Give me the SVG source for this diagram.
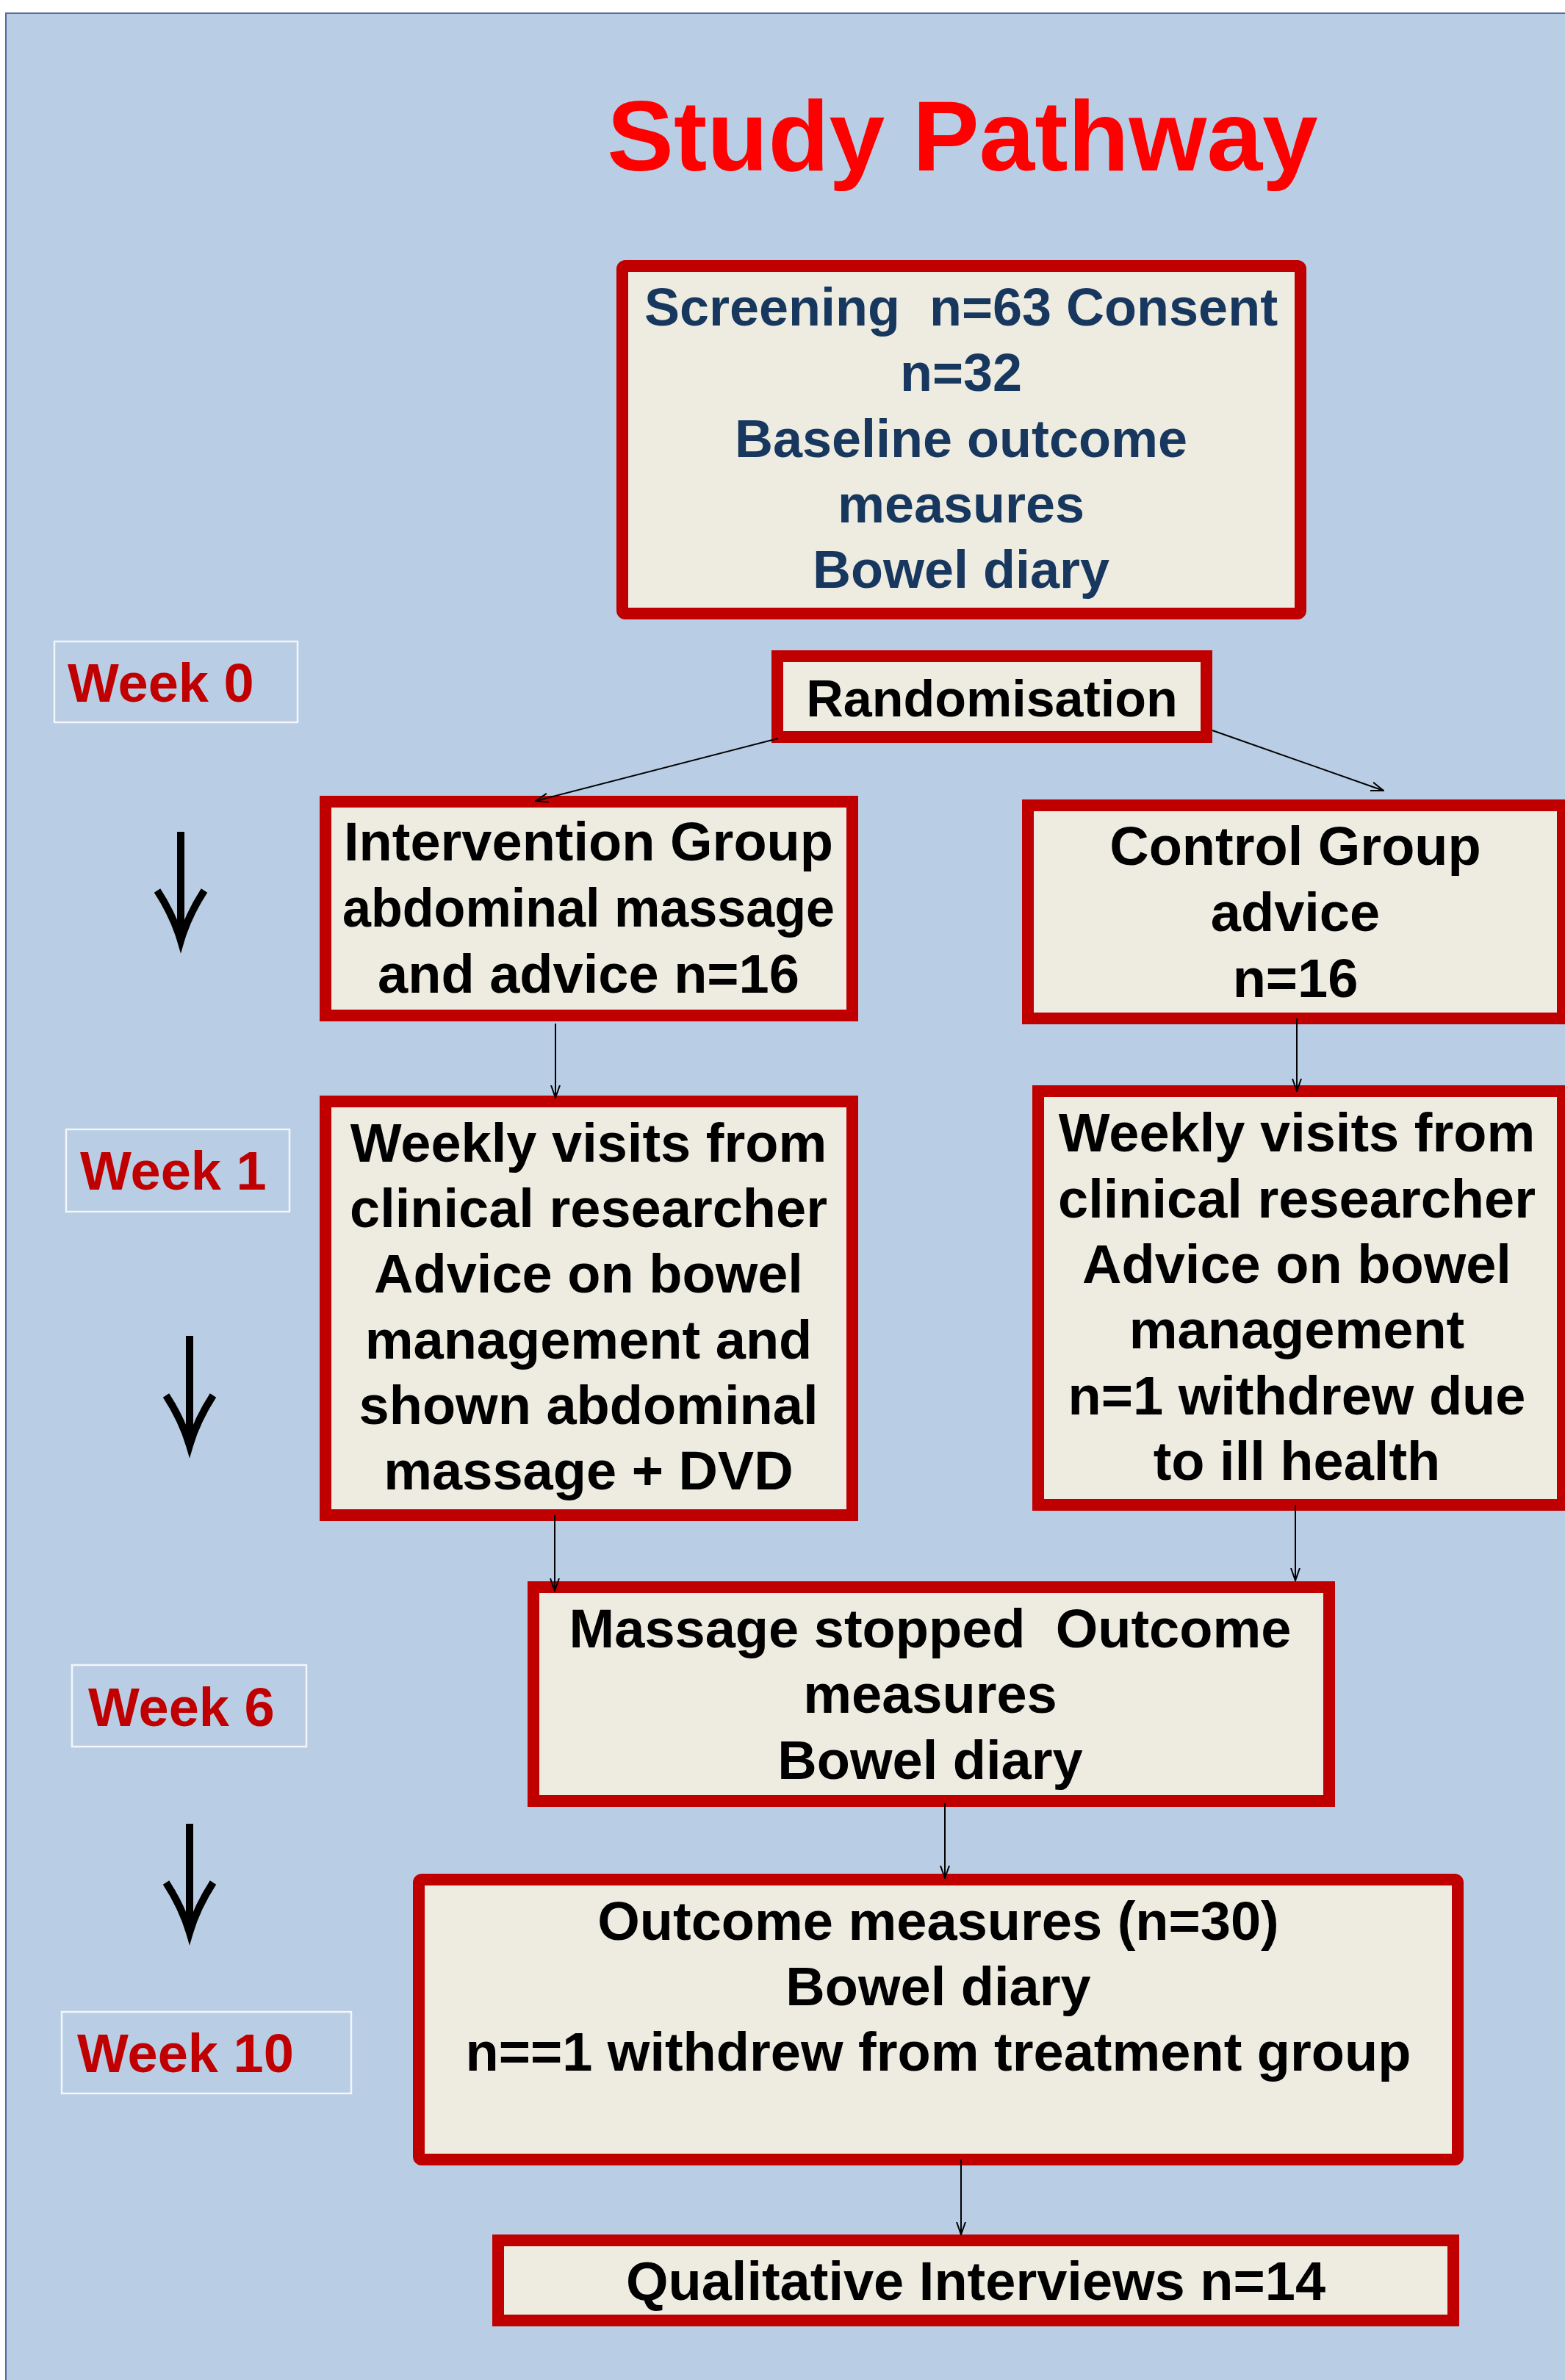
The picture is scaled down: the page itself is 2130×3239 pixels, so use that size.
<svg xmlns="http://www.w3.org/2000/svg" width="2130" height="3239" viewBox="0 0 2130 3239">
<style>
.box{fill:#EEECE1;stroke:#C00000;stroke-width:16}
.wk{fill:none;stroke:#F4F6FA;stroke-width:2.5}
.t{font-family:"Liberation Sans",Arial,sans-serif;font-weight:bold;font-size:74px;fill:#000;text-anchor:middle}
.nv{fill:#17375E;font-size:72px}
.wt{font-family:"Liberation Sans",Arial,sans-serif;font-weight:bold;font-size:74px;fill:#C00000}
.title{font-family:"Liberation Sans",Arial,sans-serif;font-weight:bold;font-size:136px;fill:#FF0000;text-anchor:middle}
.c{stroke:#000;stroke-width:2;fill:none;marker-end:url(#ah)}
.big{stroke:#000;stroke-width:10;fill:none}
</style>
<defs>
<marker id="ah" viewBox="0 0 18 14" refX="17" refY="7" markerWidth="18" markerHeight="14" markerUnits="userSpaceOnUse" orient="auto">
<path d="M0,1 L17,7 L0,13" fill="none" stroke="#000" stroke-width="2"/>
</marker>
</defs>
<rect x="0" y="0" width="2130" height="3239" fill="#FFFFFF"/>
<rect x="8" y="18" width="2140" height="3240" fill="#B9CDE5" stroke="#4F6D9A" stroke-width="2"/>
<text class="title" x="1310" y="232">Study Pathway</text>

<g id="screening">
<rect class="box" x="847" y="362" width="923" height="473" rx="4"/>
<text class="t nv" x="1308" y="443" xml:space="preserve">Screening  n=63 Consent</text>
<text class="t nv" x="1308" y="532">n=32</text>
<text class="t nv" x="1308" y="622">Baseline outcome</text>
<text class="t nv" x="1308" y="711">measures</text>
<text class="t nv" x="1308" y="800">Bowel diary</text>
</g>
<g id="randomisation">
<rect class="box" x="1058" y="893" width="584" height="110"/>
<text class="t" x="1350" y="975" style="font-size:70px">Randomisation</text>
</g>
<g id="intervention">
<rect class="box" x="443" y="1091" width="717" height="291"/>
<text class="t" x="801" y="1171">Intervention Group</text>
<text class="t" x="801" y="1261" textLength="670" lengthAdjust="spacingAndGlyphs">abdominal massage</text>
<text class="t" x="801" y="1351">and advice n=16</text>
</g>
<g id="control">
<rect class="box" x="1399" y="1096" width="728" height="290"/>
<text class="t" x="1763" y="1177">Control Group</text>
<text class="t" x="1763" y="1267">advice</text>
<text class="t" x="1763" y="1357">n=16</text>
</g>
<g id="weekly-intervention">
<rect class="box" x="443" y="1499" width="717" height="563"/>
<text class="t" x="801" y="1581">Weekly visits from</text>
<text class="t" x="801" y="1670">clinical researcher</text>
<text class="t" x="801" y="1759">Advice on bowel</text>
<text class="t" x="801" y="1849">management and</text>
<text class="t" x="801" y="1938">shown abdominal</text>
<text class="t" x="801" y="2027">massage + DVD</text>
</g>
<g id="weekly-control">
<rect class="box" x="1413" y="1485" width="714" height="563"/>
<text class="t" x="1765" y="1567">Weekly visits from</text>
<text class="t" x="1765" y="1657">clinical researcher</text>
<text class="t" x="1765" y="1746">Advice on bowel</text>
<text class="t" x="1765" y="1835">management</text>
<text class="t" x="1765" y="1925">n=1 withdrew due</text>
<text class="t" x="1765" y="2014">to ill health</text>
</g>
<g id="massage-stopped">
<rect class="box" x="726" y="2160" width="1083" height="291"/>
<text class="t" x="1266" y="2242" xml:space="preserve">Massage stopped  Outcome</text>
<text class="t" x="1266" y="2331">measures</text>
<text class="t" x="1266" y="2421">Bowel diary</text>
</g>
<g id="outcome">
<rect class="box" x="570" y="2558" width="1414" height="381" rx="4"/>
<text class="t" x="1277" y="2640">Outcome measures (n=30)</text>
<text class="t" x="1277" y="2729">Bowel diary</text>
<text class="t" x="1277" y="2818">n==1 withdrew from treatment group</text>
</g>
<g id="qualitative">
<rect class="box" x="678" y="3049" width="1300" height="109"/>
<text class="t" x="1328" y="3130">Qualitative Interviews n=14</text>
</g>

<g id="week0"><rect class="wk" x="74" y="873" width="331" height="110"/><text class="wt" x="92" y="955">Week 0</text></g>
<g id="week1"><rect class="wk" x="90" y="1537" width="304" height="112"/><text class="wt" x="109" y="1619">Week 1</text></g>
<g id="week6"><rect class="wk" x="98" y="2266" width="319" height="111"/><text class="wt" x="120" y="2349">Week 6</text></g>
<g id="week10"><rect class="wk" x="84" y="2738" width="394" height="111"/><text class="wt" x="105" y="2820">Week 10</text></g>

<g id="timeline-arrows">
<path class="big" d="M246,1132 V1276"/>
<path class="big" d="M214,1212 Q236,1246 246,1280 Q256,1246 278,1212"/>
<path class="big" d="M258,1818 V1963"/>
<path class="big" d="M226,1899 Q248,1933 258,1967 Q268,1933 290,1899"/>
<path class="big" d="M258,2482 V2626"/>
<path class="big" d="M226,2562 Q248,2596 258,2630 Q268,2596 290,2562"/>
</g>

<g id="connectors">
<line class="c" x1="1059" y1="1005" x2="729" y2="1090"/>
<line class="c" x1="1650" y1="994" x2="1883" y2="1076"/>
<line class="c" x1="756" y1="1393" x2="756" y2="1494"/>
<line class="c" x1="1765" y1="1386" x2="1765" y2="1485"/>
<line class="c" x1="755" y1="2062" x2="755" y2="2165"/>
<line class="c" x1="1763" y1="2048" x2="1763" y2="2151"/>
<line class="c" x1="1286" y1="2454" x2="1286" y2="2556"/>
<line class="c" x1="1308" y1="2939" x2="1308" y2="3041"/>
</g>
</svg>
